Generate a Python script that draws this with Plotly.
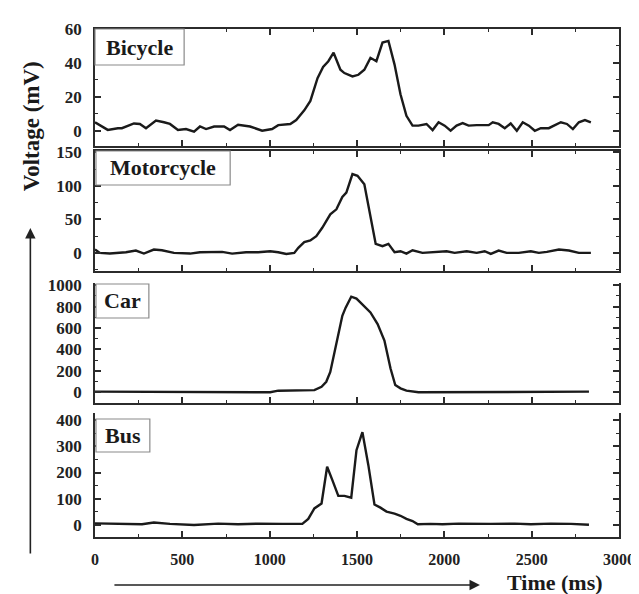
import plotly.graph_objects as go

# ---------------- data ----------------
bicycle_t = [0, 73, 131, 154, 223, 257, 292, 349, 395, 429, 475, 521, 567, 601, 636, 682, 739, 773,
             819, 888, 957, 1014, 1049, 1118, 1152, 1198, 1233, 1274, 1306, 1336, 1366, 1405, 1428,
             1474, 1508, 1542, 1577, 1611, 1646, 1680, 1715, 1749, 1783, 1818, 1852, 1898, 1933,
             1967, 2002, 2036, 2070, 2105, 2139, 2185, 2254, 2277, 2311, 2346, 2380, 2415, 2449,
             2484, 2518, 2552, 2598, 2667, 2702, 2736, 2770, 2805, 2839]
bicycle_v = [5, 0.5, 1.5, 1.5, 4.3, 4, 1.5, 6, 5, 4, 0.5, 1, -0.5, 2.5, 1, 2.5, 2.5, 0.4, 3.5, 2.5,
             0, 1, 3.3, 4, 6.3, 12, 17.6, 31, 37.6, 41, 46, 36, 34, 32, 33, 36, 43, 41, 52, 53, 39,
             21.5, 8.8, 3, 3, 4, 0.4, 5, 3, 0, 3, 4.5, 3, 3.3, 3.3, 5, 4, 1.5, 4.3, 0, 5, 3, 0, 1.5,
             1.5, 5, 4, 1, 5, 6.3, 5]

moto_t = [0, 28, 85, 177, 234, 280, 337, 383, 452, 544, 601, 659, 728, 785, 865, 934, 1003, 1049,
          1095, 1141, 1164, 1198, 1233, 1267, 1301, 1347, 1382, 1416, 1439, 1474, 1503, 1542, 1577,
          1607, 1646, 1680, 1715, 1749, 1783, 1818, 1875, 1944, 2013, 2059, 2128, 2185, 2231, 2266,
          2311, 2357, 2426, 2495, 2541, 2587, 2656, 2713, 2770, 2839]
moto_v = [5, 0, -1, 1, 3.5, -1, 5, 4, 0, -1, 1, 1.5, 1.5, -1, 1, 1, 2.5, 1, -1.5, 0, 7.5, 16, 18.5,
          25, 37.5, 57.5, 65, 83.5, 90, 117.5, 115, 102.5, 57.5, 13.5, 10, 13.5, 1, 2.5, -1, 4, 0,
          1.5, 2.5, 0, 2.5, 0, 2.5, -1.5, 3.5, 0, 0, 2.5, 0, 1.5, 5, 3.5, 0, 0]

car_t = [0, 429, 1003, 1049, 1256, 1297, 1324, 1347, 1382, 1416, 1435, 1467, 1497, 1531, 1577, 1618,
         1657, 1692, 1719, 1749, 1783, 1852, 2266, 2828]
car_v = [6, 6, 0, 15, 20, 52, 98, 190, 468, 714, 790, 892, 874, 822, 745, 637, 483, 222, 68, 37,
         15, 0, 0, 6]

bus_t = [0, 108, 200, 269, 337, 429, 567, 705, 819, 934, 1072, 1187, 1221, 1256, 1297, 1329, 1359,
         1393, 1428, 1467, 1497, 1531, 1565, 1600, 1634, 1669, 1715, 1749, 1783, 1818, 1848, 1921,
         1990, 2082, 2266, 2403, 2495, 2610, 2725, 2828]
bus_v = [6, 4, 4, 2.5, 9, 4, 0, 5, 2.5, 5, 4, 4, 23, 63, 82, 222, 171, 111, 111, 104, 285, 354, 228,
         78, 66, 51, 43, 35, 23, 15, 2.5, 4, 2.5, 5, 4, 5, 2.5, 5, 4, 1]

panel_names = ["Bicycle", "Motorcycle", "Car", "Bus"]
y_ranges = [[-9, 60], [-27, 152], [-100, 1020], [-46, 427]]
y_dticks = [20, 50, 200, 100]
x_tick_vals = [0, 500, 1000, 1500, 2000, 2500, 3000]

series = [(bicycle_t, bicycle_v), (moto_t, moto_v), (car_t, car_v), (bus_t, bus_v)]

# ---------------- layout geometry (pixels) ----------------
W, H = 639, 594
L, R, T, B = 87, 622, 21, 529          # plot area in pixels
panel_px = [(21, 138), (143, 263), (275, 395), (405, 529)]   # top, bottom of each panel
box_px = [(87, 178, 21, 57), (88, 225, 143, 177), (88, 142, 276, 310), (88, 143, 411, 444)]


def px_x(p):
    return (p - L) / (R - L)


def px_y(p):
    return (B - p) / (B - T)


SERIF = "Liberation Serif"
AXCOL = "#2b2b2b"

fig = go.Figure()
layout = dict(
    width=W, height=H,
    margin=dict(l=L, r=W - R, t=T, b=H - B),
    paper_bgcolor="white", plot_bgcolor="white",
    showlegend=False,
    font=dict(family=SERIF, color="#222"),
)

for i, (t, v) in enumerate(series):
    n = "" if i == 0 else str(i + 1)
    fig.add_trace(go.Scatter(x=t, y=v, mode="lines", xaxis="x" + n, yaxis="y" + n,
                             line=dict(color="#1a1a1a", width=2.4), hoverinfo="skip"))
    top, bot = panel_px[i]
    has_top = i < 2
    layout["xaxis" + n] = dict(
        domain=[0, 1], anchor="y" + n, range=[0, 3000],
        tickvals=x_tick_vals, ticks="inside", ticklen=6, tickwidth=1.5, tickcolor=AXCOL,
        minor=dict(dtick=250, tick0=0, ticks="inside", ticklen=3, tickwidth=1.2, tickcolor=AXCOL),
        showline=True, linecolor=AXCOL, linewidth=1.8,
        mirror="ticks" if has_top else False,
        showgrid=False, zeroline=False,
        showticklabels=(i == 3),
        tickfont=dict(family=SERIF, size=16, color="#222", weight="bold"),
        ticklabelstandoff=7, ticklabeloverflow="allow",
    )
    if i > 0:
        layout["xaxis" + n]["matches"] = "x"
    layout["yaxis" + n] = dict(
        domain=[px_y(bot), px_y(top)], anchor="x" + n, range=y_ranges[i],
        dtick=y_dticks[i], tick0=0, ticks="inside", ticklen=6, tickwidth=1.5, tickcolor=AXCOL,
        minor=dict(dtick=y_dticks[i] / 2, tick0=0, ticks="inside", ticklen=3, tickwidth=1.2,
                   tickcolor=AXCOL),
        showline=True, linecolor=AXCOL, linewidth=1.8, mirror="ticks",
        showgrid=False, zeroline=False,
        tickfont=dict(family=SERIF, size=17, color="#222", weight="bold"),
        ticklabelstandoff=8, ticklabeloverflow="allow",
    )

shapes = []
annotations = []
for i, name in enumerate(panel_names):
    x0, x1, y0, y1 = box_px[i]
    shapes.append(dict(type="rect", xref="paper", yref="paper",
                       x0=px_x(x0), x1=px_x(x1), y0=px_y(y1), y1=px_y(y0),
                       line=dict(color="#8a8a8a", width=1.2), fillcolor="white"))
    annotations.append(dict(text=name, xref="paper", yref="paper",
                            x=px_x((x0 + x1) / 2), y=px_y((y0 + y1) / 2),
                            xanchor="center", yanchor="middle", showarrow=False,
                            font=dict(family=SERIF, size=22, color="#1a1a1a", weight="bold")))

# axis titles
annotations.append(dict(text="Voltage (mV)", xref="paper", yref="paper",
                        x=px_x(22), y=px_y(118), textangle=-90, showarrow=False,
                        xanchor="center", yanchor="middle",
                        font=dict(family=SERIF, size=23, color="#1a1a1a", weight="bold")))
annotations.append(dict(text="Time (ms)", xref="paper", yref="paper",
                        x=px_x(557), y=px_y(574), showarrow=False,
                        xanchor="center", yanchor="middle",
                        font=dict(family=SERIF, size=22, color="#1a1a1a", weight="bold")))
# arrows
annotations.append(dict(text="", xref="paper", yref="paper", x=px_x(21), y=px_y(220),
                        ax=0, ay=327, showarrow=True, arrowhead=2, arrowsize=1.3,
                        arrowwidth=1.6, arrowcolor="#222"))
annotations.append(dict(text="", xref="paper", yref="paper", x=px_x(480), y=px_y(577),
                        ax=-367, ay=0, showarrow=True, arrowhead=2, arrowsize=1.3,
                        arrowwidth=1.6, arrowcolor="#222"))

layout["shapes"] = shapes
layout["annotations"] = annotations
fig.update_layout(**layout)
fig.write_html("out.html")
